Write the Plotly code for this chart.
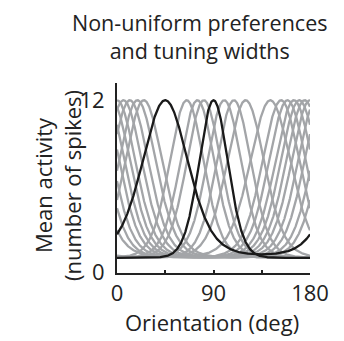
import numpy as np
import plotly.graph_objects as go

# Tuning-curve parameters
gray_prefs = [0, 6, 12, 19, 25, 65, 75, 81, 100, 109, 120, 143, 153, 159, 165, 170, 175]
gray_kappas = [2.8, 2.8, 2.8, 2.8, 2.8, 3.3, 3.3, 3.3, 3.3, 3.3, 2.8, 2.4, 2.8, 2.8, 2.8, 2.8, 2.8]
black_prefs = [45, 90]
black_kappas = [1.9, 4.6]
baseline = 1.0
peak = 12.0

x_tickvals = [0, 45, 90, 135, 180]
x_ticktext = ["0", "", "90", "", "180"]
y_tickvals = [0, 12]
y_ticktext = ["0", "12"]

theta = np.linspace(0, 180, 721)

def curve(pref, kappa):
    return baseline + (peak - baseline) * np.exp(kappa * (np.cos(np.deg2rad(2 * (theta - pref))) - 1))

fig = go.Figure()
for p, k in zip(gray_prefs, gray_kappas):
    fig.add_trace(go.Scatter(x=theta, y=curve(p, k), mode="lines",
                             line=dict(color="#a3a5a8", width=2.3), hoverinfo="skip"))
for p, k in zip(black_prefs, black_kappas):
    fig.add_trace(go.Scatter(x=theta, y=curve(p, k), mode="lines",
                             line=dict(color="#1a1a1a", width=2.3), hoverinfo="skip"))

# page offset (body margin) compensation
OFF = 8
L, T, W, H = 117 - OFF, 83 - OFF, 193, 190

def px(x):
    return (x - OFF - L) / W

def py(y):
    return (T + H - (y - OFF)) / H

font = "Open Sans, Carlito, sans-serif"
fs = 22
fig.update_layout(
    width=344, height=341,
    margin=dict(l=L, r=344 - L - W, t=T, b=341 - T - H, autoexpand=False),
    paper_bgcolor="white", plot_bgcolor="white",
    showlegend=False,
    font=dict(family=font, size=fs, color="#222"),
    xaxis=dict(range=[0, 180], tickvals=x_tickvals, ticktext=x_ticktext,
               ticks="inside", ticklen=3, tickwidth=1.5, tickcolor="#222",
               showline=True, linecolor="#222", linewidth=2, showgrid=False,
               zeroline=False, tickfont=dict(size=fs), automargin=False,
               ticklabelstandoff=0),
    yaxis=dict(range=[-0.05, 13.2], tickvals=y_tickvals, ticktext=y_ticktext,
               ticks="", showline=True, linecolor="#222", linewidth=2,
               showgrid=False, zeroline=False, tickfont=dict(size=fs),
               automargin=False, ticklabelstandoff=6),
    annotations=[
        dict(text="Non-uniform preferences<br>and tuning widths", x=px(199), y=py(37),
             xref="paper", yref="paper", showarrow=False, yanchor="middle",
             borderpad=0, font=dict(size=21.5)),
        dict(text="Orientation (deg)", x=px(212), y=py(322), xref="paper", yref="paper",
             showarrow=False, yanchor="middle", font=dict(size=fs)),
        dict(text="Mean activity<br>(number of spikes)", x=px(57), y=py(186), xref="paper",
             yref="paper", showarrow=False, textangle=-90, xanchor="center",
             yanchor="middle", font=dict(size=fs)),
    ],
)

fig.write_html("out.html")
